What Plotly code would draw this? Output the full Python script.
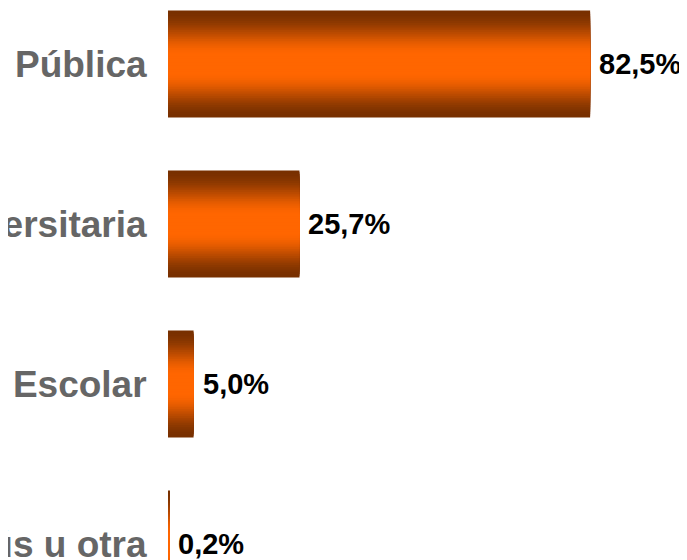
import plotly.graph_objects as go

# %%
# Data
categorias = ["Pública", "Universitaria", "Escolar", "Bibliobús u otra"]
porcentajes = [82.5, 25.7, 5.0, 0.2]
etiquetas = ["82,5%", "25,7%", "5,0%", "0,2%"]

# %%
# Gradient bars: overlay of several bars, wide/dark at the back, narrow/orange in front
dark = (120, 48, 0)
orange = (255, 102, 0)
n_layers = 30
bar_width = 0.67

fig = go.Figure()
for k in range(n_layers):
    u = min(1.0, (k / (n_layers - 1)) / 0.85)
    s = 3 * u ** 2 - 2 * u ** 3
    col = tuple(int(round(dark[i] + (orange[i] - dark[i]) * s)) for i in range(3))
    fig.add_trace(go.Bar(
        x=porcentajes, y=categorias, orientation="h",
        width=bar_width * (1 - k / n_layers),
        marker=dict(color="rgb(%d,%d,%d)" % col, line=dict(width=0)),
        hoverinfo="skip", showlegend=False))

for cat, val, lab in zip(categorias, porcentajes, etiquetas):
    fig.add_annotation(x=val, y=cat, text="<b>%s</b>" % lab, showarrow=False,
                       xanchor="left", yanchor="middle", xshift=7,
                       font=dict(family="Arial, Liberation Sans", size=29, color="black"))

# the page body adds an 8px offset, so the plot is shifted up/left to compensate
fig.update_layout(
    width=687, height=560,
    margin=dict(l=160, r=0, t=0, b=0),
    barmode="overlay",
    plot_bgcolor="white", paper_bgcolor="white",
    xaxis=dict(visible=False, range=[0, 103]),
    yaxis=dict(type="category", range=[3.15, -0.35], showgrid=False, zeroline=False,
               showline=False, ticks="outside", ticklen=13, tickcolor="rgba(0,0,0,0)",
               tickfont=dict(family="Arial, Liberation Sans", size=37, color="#666666",
                             weight="bold"),
               automargin=False),
)

fig.write_html("out.html")
